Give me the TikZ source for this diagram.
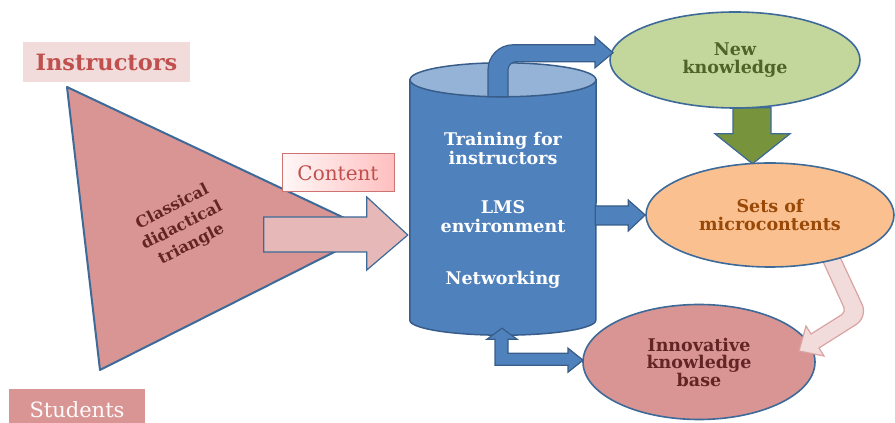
\documentclass[tikz,border=0pt]{standalone}
\usepackage{fontspec}
\setmainfont{DejaVu Serif}
\usetikzlibrary{shapes.geometric,calc}
\pgfdeclarelayer{under}
\pgfsetlayers{under,main}
\definecolor{edge}{HTML}{3D6A99}
\definecolor{rose}{HTML}{D99594}
\definecolor{blush}{HTML}{E6B9B8}
\definecolor{palerose}{HTML}{F2DCDB}
\definecolor{roseedge}{HTML}{D9A3A2}
\definecolor{brick}{HTML}{C0504D}
\definecolor{wine}{HTML}{632523}
\definecolor{lmsblue}{HTML}{4F81BD}
\definecolor{lmslight}{HTML}{95B3D7}
\definecolor{lmsedge}{HTML}{385D8A}
\definecolor{leaf}{HTML}{C3D69B}
\definecolor{olive}{HTML}{4F6228}
\definecolor{moss}{HTML}{77933C}
\definecolor{peach}{HTML}{FAC090}
\definecolor{rust}{HTML}{984807}

\begin{document}
\begin{tikzpicture}[x=1pt,y=1pt,
  oval/.style={ellipse,draw=edge,line width=1.6pt,inner sep=0pt,align=center,
    font=\fontsize{17.5}{17.5}\selectfont\bfseries},
  cyltext/.style={text=white,align=center,font=\fontsize{17.5}{19}\selectfont\bfseries},
  blockarrow/.style={line width=1.2pt,line join=miter}]
 \useasboundingbox (0,0) rectangle (895,423);
 % the three corners of the classical triangle
 \node[fill=palerose,minimum width=167,minimum height=40,text=brick,
   font=\fontsize{22.5}{24}\selectfont\bfseries] (instr) at (106.5,361) {Instructors};
 \fill[rose] (9,-10) rectangle (145,34);
 \node[anchor=base,text=white!96!rose,font=\fontsize{21}{24}\selectfont] (stud) at (77,5) {Students};
 \filldraw[fill=rose,draw=edge,line width=2pt,line join=round]
   (67,336) -- (100,53) -- (374,191) -- cycle;
 \node[rotate=27,text=wine,align=center,font=\fontsize{16}{21}\selectfont\bfseries]
   (tri) at (182,197) {Classical\\didactical\\triangle};

 % LMS cylinder
 \node[minimum width=186,minimum height=240,inner sep=0pt] (lms) at (503,223) {};
 \filldraw[fill=lmsblue,draw=lmsedge,line width=1.5pt] (lms.north west) -- (lms.south west)
   arc[start angle=180,end angle=360,x radius=93,y radius=15] -- (lms.north east) -- cycle;
 \filldraw[fill=lmslight,draw=lmsedge,line width=1.5pt] (lms.north) ellipse[x radius=93,y radius=17];
 \node[cyltext] (train) at (503,275) {Training for\\instructors};
 \node[cyltext] (env) at (503,206) {LMS\\environment};
 \node[cyltext] (net) at (503,143) {Networking};

 % content goes into the LMS
 \coordinate (ctip) at ($(lms.west)+(-2,-35)$);
 \filldraw[blockarrow,fill=blush,draw=edge] (ctip) -- ++(-41,38) -- ++(0,-20) -- ++(-103,0)
   -- ++(0,-35) -- ++(103,0) -- ++(0,-18) -- cycle;
 \node[draw=brick!80,line width=1pt,left color=red!3,right color=red!25,
   minimum width=112,minimum height=38,text=brick,font=\fontsize{20}{22}\selectfont]
   (content) at (338,250) {Content};

 % ovals
 \node[oval,fill=leaf,text=olive,minimum width=250,minimum height=96] (newk) at (735,363) {New\\knowledge};
 \node[oval,fill=peach,text=rust,minimum width=248,minimum height=104] (micro) at (770,208) {Sets of\\microcontents};
 \begin{pgfonlayer}{under}
 \node[oval,fill=rose,text=wine,minimum width=232,minimum height=115] (innov) at (699,61) {Innovative\\knowledge\\base};
 \coordinate (pstart) at ($(micro.center)+(53,-46.5)$);
 \filldraw[blockarrow,fill=palerose,draw=roseedge] (pstart) [rounded corners=5pt]-- ++(23,-50.5)
   [sharp corners]-- ++(-35,-22) -- ++(-5,8) -- ++(-7,-25) -- ++(25,-5) -- ++(-5,8)
   [rounded corners=14pt]-- ++(49,31) [sharp corners]-- ++(-28,60) -- cycle;
 \coordinate (gtop) at ($(newk.south)+(-2,1)$);
 \filldraw[blockarrow,fill=moss,draw=edge] (gtop) -- ++(0,-26) -- ++(-18,0) -- ++(37.5,-30)
   -- ++(37.5,30) -- ++(-19,0) -- ++(0,26) -- cycle;
 \end{pgfonlayer}

 % arrows out of the LMS
 \coordinate (kfoot) at ($(lms.north)+(-15,-17)$);
 \filldraw[blockarrow,fill=lmsblue,draw=lmsedge] (kfoot) -- ++(0,27)
   arc[start angle=180,end angle=90,radius=25] -- ++(82,0) -- ++(0,8) -- ++(18,-16)
   -- ++(-18,-15) -- ++(0,6) -- ++(-79,0) arc[start angle=90,end angle=180,radius=8] -- ++(0,-27) -- cycle;
 \filldraw[blockarrow,fill=lmsblue,draw=lmsedge] (micro.west) -- ++(-17,15) -- ++(0,-6) -- ++(-33,0)
   -- ++(0,-19) -- ++(33,0) -- ++(0,-6) -- cycle;
 \coordinate (utip) at ($(lms.south)+(-1,-8)$);
 \filldraw[blockarrow,fill=lmsblue,draw=lmsedge] (utip) -- ++(15,-11) -- ++(-9,0) -- ++(0,-14)
   -- ++(60,0) -- ++(0,5) -- ++(15,-12) -- ++(-15,-12) -- ++(0,7) -- ++(-73,0) -- ++(0,26)
   -- ++(-8,0) -- cycle;
\end{tikzpicture}
\end{document}
